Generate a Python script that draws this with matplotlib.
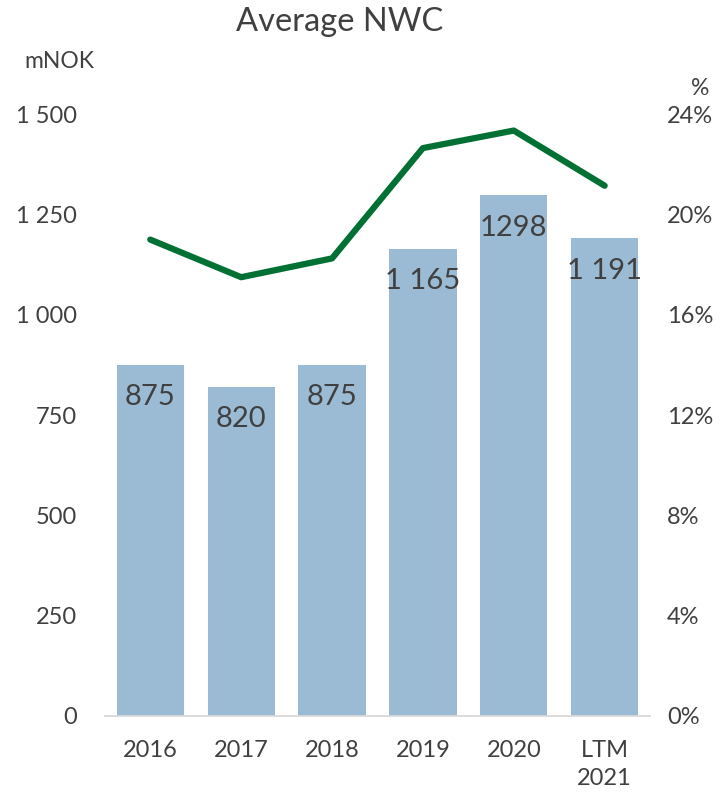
import numpy as np
import matplotlib.pyplot as plt

# Average net working capital, mNOK, and NWC as share of revenue
years = ['2016', '2017', '2018', '2019', '2020', 'LTM\n2021']
nwc = [875, 820, 875, 1165, 1298, 1191]
nwc_labels = ['875', '820', '875', '1 165', '1298', '1 191']
nwc_pct = [19.0, 17.5, 18.25, 22.65, 23.35, 21.15]

grey = '#404040'
plt.rcParams['font.family'] = ['Lato', 'DejaVu Sans']

fig = plt.figure(figsize=(7.28, 7.99), dpi=100)
ax = fig.add_axes([0.144, 0.104, 0.749, 0.753])
x = np.arange(len(years))
ax.bar(x, nwc, width=0.74, color='#9bbbd4', zorder=2)
for xi, v, lab in zip(x, nwc, nwc_labels):
    ax.annotate(lab, (xi, v), xytext=(0, -14), textcoords='offset points',
                ha='center', va='top', fontsize=21, color=grey)

ax.set_xlim(-0.5, 5.5)
ax.set_ylim(0, 1500)
ax.set_yticks(np.arange(0, 1501, 250))
ax.set_yticklabels(['0', '250', '500', '750', '1 000', '1 250', '1 500'])
ax.set_xticks(x)
ax.set_xticklabels(years, linespacing=1.45)
for s in ['top', 'left', 'right']:
    ax.spines[s].set_visible(False)
ax.spines['bottom'].set_color('#d9d9d9')
ax.spines['bottom'].set_linewidth(1.3)
ax.tick_params(axis='y', length=0, pad=20, labelsize=17, labelcolor=grey)
ax.tick_params(axis='x', length=0, pad=17, labelsize=17, labelcolor=grey)

ax2 = ax.twinx()
ax2.plot(x, nwc_pct, color='#007033', linewidth=4.5, solid_capstyle='round', zorder=3)
ax2.set_ylim(0, 24)
ax2.set_yticks(np.arange(0, 25, 4))
ax2.set_yticklabels([f'{v}%' for v in range(0, 25, 4)])
for s in ['top', 'left', 'right', 'bottom']:
    ax2.spines[s].set_visible(False)
ax2.tick_params(axis='y', length=0, pad=12, labelsize=17, labelcolor=grey)

fig.text(0.466, 0.972, 'Average NWC', ha='center', va='center', fontsize=23.5, color=grey)
fig.text(0.082, 0.923, 'mNOK', ha='center', va='center', fontsize=16.5, color=grey)
fig.text(0.962, 0.889, '%', ha='center', va='center', fontsize=16.5, color=grey)

fig.savefig('out.png', dpi=100)
